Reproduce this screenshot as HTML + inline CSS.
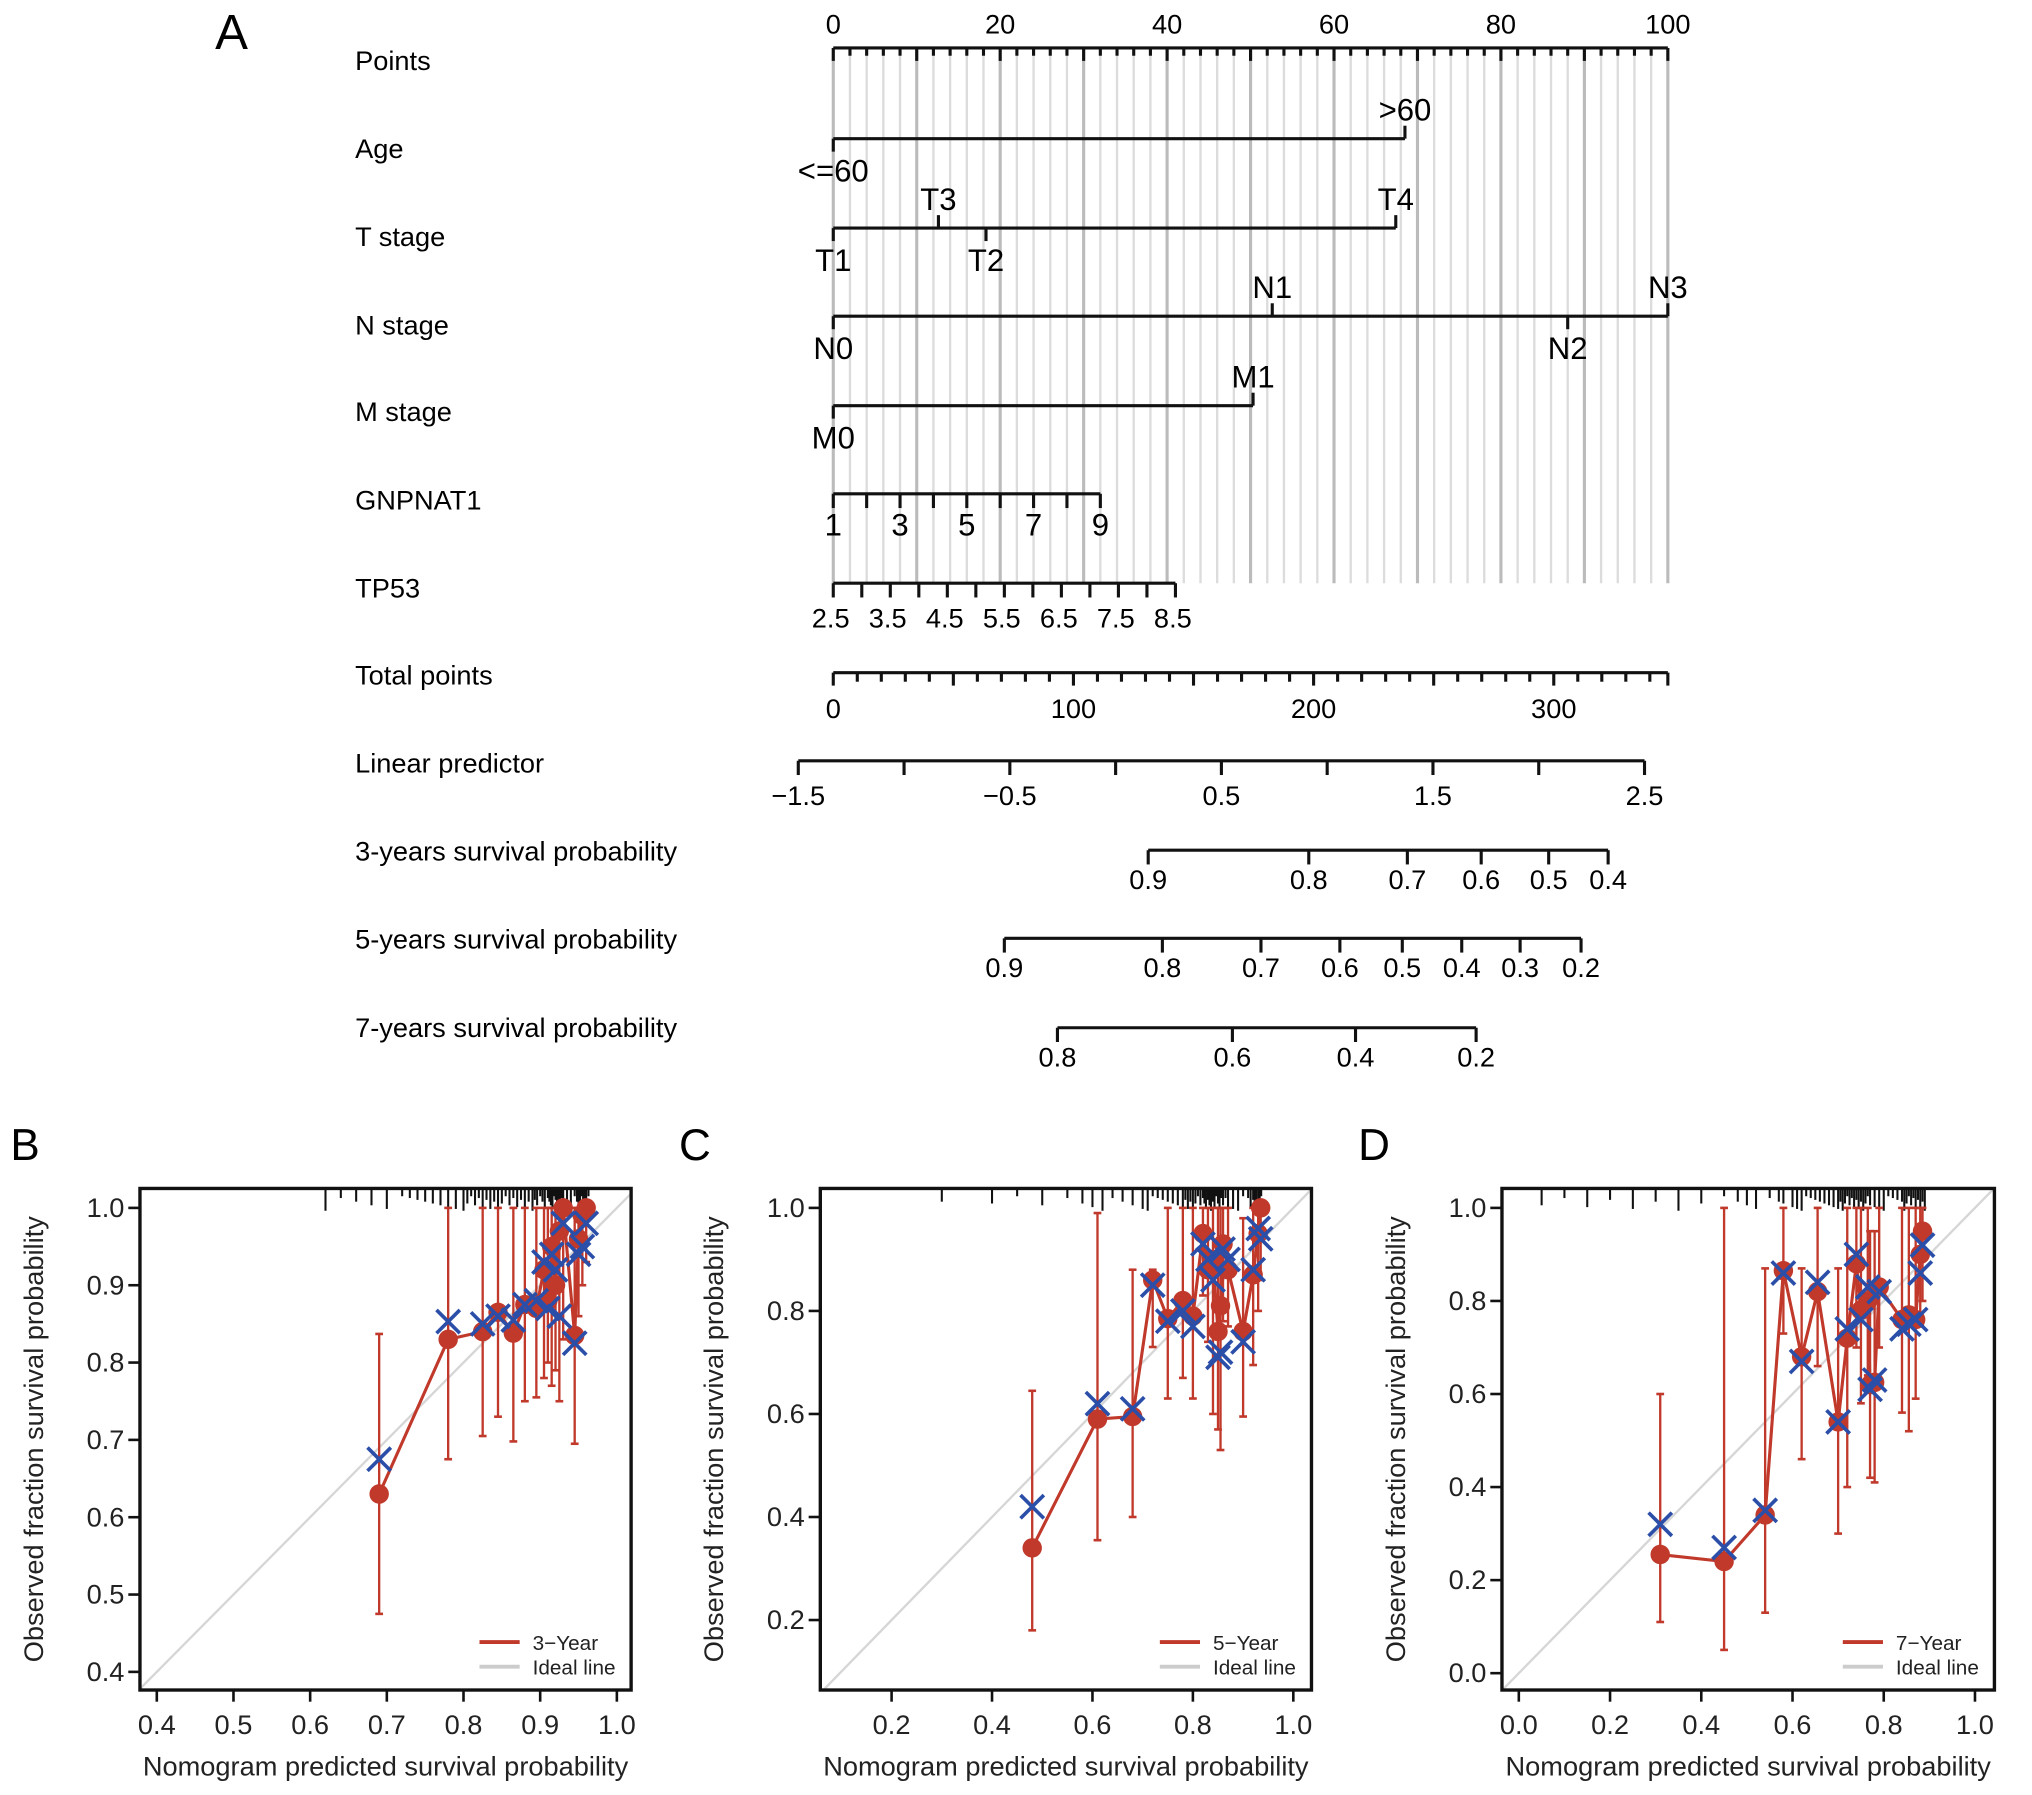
<!DOCTYPE html>
<html><head><meta charset="utf-8"><style>
html,body{margin:0;padding:0;background:#fff;}
svg{display:block;font-family:"Liberation Sans",Arial,sans-serif;}
</style></head><body>
<svg id="fig" xmlns="http://www.w3.org/2000/svg" width="2032" height="1795" viewBox="0 0 1568 1385" preserveAspectRatio="none">
<g id="nomo"></g>
<g id="cal"></g>
</svg>
<script>
// ---------- Nomogram data ----------
const rowLabels = ["Points","Age","T stage","N stage","M stage","GNPNAT1","TP53","Total points","Linear predictor","3-years survival probability","5-years survival probability","7-years survival probability"];
const ageLevels = ["<=60",">60"];
const agePoints = [0,68.5];
const tLevels = ["T1","T3","T2","T4"];
const tPoints = [0,12.6,18.3,67.4];
const nLevels = ["N0","N1","N2","N3"];
const nPoints = [0,52.6,88,100];
const mLevels = ["M0","M1"];
const mPoints = [0,50.3];
const gnpTicks = [1,2,3,4,5,6,7,8,9];
const gnpLabels = [1,3,5,7,9];
const gnpMaxPoints = 32;
const tp53Ticks = [2.5,3,3.5,4,4.5,5,5.5,6,6.5,7,7.5,8,8.5];
const tp53Labels = ["2.5","3.5","4.5","5.5","6.5","7.5","8.5"];
const tp53MaxPoints = 41;
const totalLabels = [0,100,200,300];
const totalMax = 347.5;
const lpTicks = [-1.5,-1,-0.5,0,0.5,1,1.5,2,2.5];
const lpLabels = ["-1.5","-0.5","0.5","1.5","2.5"];
const surv3Labels = ["0.9","0.8","0.7","0.6","0.5","0.4"];
const surv3Lp = [0.154,0.913,1.379,1.728,2.047,2.328];
const surv5Lp = [-0.526,0.221,0.687,1.06,1.355,1.636,1.912,2.2];
const surv5Labels = ["0.9","0.8","0.7","0.6","0.5","0.4","0.3","0.2"];
const surv7Lp = [-0.275,0.552,1.134,1.704];
const surv7Labels = ["0.8","0.6","0.4","0.2"];

// ---------- Calibration data ----------
const predB = [0.69,0.78,0.825,0.845,0.865,0.88,0.895,0.905,0.91,0.915,0.92,0.925,0.93,0.945,0.95,0.955,0.96];
const obsB  = [0.63,0.83,0.84,0.865,0.838,0.875,0.87,0.92,0.88,0.95,0.90,0.97,1.0,0.835,0.96,0.99,1.0];
const corrB = [0.675,0.853,0.85,0.86,0.855,0.875,0.88,0.93,0.87,0.94,0.92,0.86,0.98,0.825,0.94,0.95,0.98];
const loB   = [0.475,0.675,0.705,0.73,0.698,0.75,0.755,0.78,0.80,0.77,0.79,0.75,0.83,0.695,0.86,0.90,0.93];
const hiB   = [0.837,1,1,1,1,1,1,1,1,1,1,1,1,1,1,1,1];
const rugB  = [0.62,0.64,0.66,0.68,0.7,0.72,0.73,0.74,0.75,0.76,0.77,0.78,0.79,0.8,0.805,0.81,0.815,0.82,0.825,0.83,0.835,0.84,0.845,0.85,0.855,0.86,0.865,0.87,0.875,0.88,0.885,0.89,0.893,0.896,0.9,0.903,0.906,0.91,0.912,0.914,0.916,0.918,0.92,0.922,0.924,0.926,0.928,0.93,0.935,0.94,0.945,0.948,0.95,0.952,0.954,0.956,0.958,0.96,0.963];
const predC = [0.48,0.61,0.68,0.72,0.75,0.78,0.80,0.82,0.83,0.84,0.85,0.855,0.86,0.87,0.90,0.92,0.93,0.935];
const obsC  = [0.34,0.59,0.595,0.86,0.785,0.82,0.79,0.95,0.88,0.90,0.76,0.81,0.93,0.88,0.76,0.87,0.95,1.0];
const corrC = [0.42,0.62,0.61,0.85,0.78,0.80,0.77,0.93,0.90,0.86,0.71,0.72,0.92,0.90,0.74,0.88,0.96,0.94];
const loC   = [0.18,0.355,0.40,0.73,0.63,0.67,0.63,0.83,0.74,0.60,0.57,0.53,0.78,0.77,0.595,0.695,0.80,0.86];
const hiC   = [0.645,0.99,0.88,0.88,1,1,1,1,1,1,1,1,1,1,0.98,1,1,1];
const rugC  = [0.3,0.4,0.45,0.5,0.55,0.58,0.6,0.62,0.64,0.66,0.68,0.7,0.71,0.72,0.73,0.74,0.75,0.76,0.77,0.78,0.785,0.79,0.795,0.8,0.805,0.81,0.815,0.82,0.823,0.826,0.83,0.833,0.836,0.84,0.843,0.846,0.85,0.853,0.856,0.86,0.865,0.87,0.88,0.89,0.9,0.91,0.915,0.92,0.923,0.926,0.93,0.933,0.936];
const predD = [0.31,0.45,0.54,0.58,0.62,0.655,0.70,0.72,0.74,0.75,0.765,0.77,0.78,0.79,0.84,0.855,0.87,0.88,0.885];
const obsD  = [0.255,0.24,0.34,0.865,0.68,0.82,0.54,0.72,0.88,0.78,0.80,0.62,0.625,0.83,0.76,0.77,0.76,0.90,0.95];
const corrD = [0.32,0.27,0.35,0.86,0.67,0.84,0.54,0.74,0.90,0.76,0.83,0.61,0.63,0.82,0.74,0.75,0.76,0.86,0.92];
const loD   = [0.11,0.05,0.13,0.73,0.46,0.66,0.30,0.40,0.70,0.58,0.64,0.42,0.41,0.70,0.56,0.52,0.59,0.75,0.80];
const hiD   = [0.60,1,0.87,1,0.87,1,0.87,1,1,1,1,0.95,0.95,1,1,1,1,1,1];
const rugD  = [0.05,0.1,0.15,0.2,0.25,0.3,0.35,0.4,0.45,0.48,0.5,0.52,0.55,0.57,0.58,0.6,0.61,0.62,0.63,0.64,0.65,0.66,0.67,0.68,0.69,0.7,0.705,0.71,0.715,0.72,0.725,0.73,0.735,0.74,0.745,0.75,0.755,0.76,0.765,0.77,0.78,0.79,0.8,0.81,0.82,0.83,0.84,0.845,0.85,0.855,0.86,0.865,0.87,0.875,0.88,0.885,0.89];

const NS="http://www.w3.org/2000/svg";
function mk(parent, tag, attrs, text){
  const e=document.createElementNS(NS,tag);
  for(const k in attrs) e.setAttribute(k,attrs[k]);
  if(text!==undefined) e.textContent=text;
  parent.appendChild(e); return e;
}
function line(p,x1,y1,x2,y2,stroke,w){return mk(p,'line',{x1:x1,y1:y1,x2:x2,y2:y2,stroke:stroke,'stroke-width':w});}

// ---------- Nomogram ----------
const nomo=document.getElementById('nomo');
const P0=643, P1=1287;
const px = v => P0 + (P1-P0)*v/100;
const rowY = [37,107,176,244,313,381,450,519,587,656,724,793];
const labY = [47,115,183,251,318,386,454,521,589,657,725,793];
const FS=21;

let t=mk(nomo,'text',{x:166,y:38,'font-size':38},'A');



rowLabels.forEach((r,i)=>{
  const e=mk(nomo,'text',{x:274,y:labY[i]+7,'font-size':FS},r);
  
  
});

for(let v=0; v<=100; v+=2){
  const major = v%10===0;
  const g=line(nomo,px(v),rowY[0],px(v),rowY[6],major?'#bbbbbb':'#dcdcdc',major?2.4:1.8);
  
  
}

function axisLine(y,x1,x2,name){
  const l=line(nomo,x1,y,x2,y,'#111',2.4);
  
  
}
function tick(x,y,len,up){
  const l=line(nomo,x,y,x,up?y-len:y+len,'#111',2.4);
  
  
}
function label(x,y,s,fs){
  const e=mk(nomo,'text',{x:x,y:y,'font-size':fs||FS,'text-anchor':'middle'},s);
  
  
}

axisLine(rowY[0],P0,P1,'points-axis');
for(let v=0; v<=100; v+=2){ tick(px(v),rowY[0],v%10===0?10:6,false); }
for(let v=0; v<=100; v+=20){ label(px(v),rowY[0]-11,String(v)); }

function catRow(idx,levels,pts,aboveIdx,name){
  const y=rowY[idx];
  axisLine(y,px(0),px(Math.max(...pts)),name);
  levels.forEach((lv,i)=>{
    const up = aboveIdx.includes(i);
    tick(px(pts[i]),y,10,up);
    label(px(pts[i]), up ? y-14 : y+33, lv, 24);
  });
}
catRow(1,ageLevels,agePoints,[1],'age-axis');
catRow(2,tLevels,tPoints,[1,3],'t-stage-axis');
catRow(3,nLevels,nPoints,[1,3],'n-stage-axis');
catRow(4,mLevels,mPoints,[1],'m-stage-axis');

{
  const y=rowY[5]; const g=v=>px((v-1)/8*gnpMaxPoints);
  axisLine(y,g(1),g(9),'gnpnat1-axis');
  gnpTicks.forEach(v=>tick(g(v),y,11,false));
  gnpLabels.forEach(v=>label(g(v),y+32,String(v),24));
}
{
  const y=rowY[6]; const g=v=>px((v-2.5)/6*tp53MaxPoints);
  axisLine(y,g(2.5),g(8.5),'tp53-axis');
  tp53Ticks.forEach(v=>tick(g(v),y,11,false));
  tp53Labels.forEach(s=>label(g(parseFloat(s))-2,y+34,s));
}
{
  const y=rowY[7]; const g=v=>P0+(P1-P0)*v/totalMax;
  axisLine(y,g(0),g(totalMax),'total-points-axis');
  for(let v=0; v<=totalMax; v+=10) tick(g(v),y,v%50===0?10:7,false);
  tick(g(totalMax),y,10,false);
  totalLabels.forEach(v=>label(g(v),y+35,String(v)));
}
const L0=616, L1=1269;
const lx = v => L0 + (L1-L0)*(v+1.5)/4;
{
  const y=rowY[8];
  axisLine(y,lx(-1.5),lx(2.5),'linear-predictor-axis');
  lpTicks.forEach(v=>tick(lx(v),y,11,false));
  lpLabels.forEach(s=>label(lx(parseFloat(s)),y+34,s.replace('-','\u2212')));
}
function survRow(idx,lps,labs,name){
  const y=rowY[idx];
  axisLine(y,lx(lps[0]),lx(lps[lps.length-1]),name);
  lps.forEach((v,i)=>{tick(lx(v),y,11,false); label(lx(v),y+30,labs[i]);});
}
survRow(9,surv3Lp,surv3Labels,'survival-3-year-axis');
survRow(10,surv5Lp,surv5Labels,'survival-5-year-axis');
survRow(11,surv7Lp,surv7Labels,'survival-7-year-axis');

// ---------- Calibration panels ----------
const cal=document.getElementById('cal');
function panel(cfg){
  const g=mk(cal,'g',{});
  
  
  const {bx0,bx1,by0,by1}=cfg;
  const X=v=>cfg.xa+(v-cfg.xv0)*(cfg.xb-cfg.xa)/(cfg.xv1-cfg.xv0);
  const Y=v=>cfg.ya+(v-cfg.yv0)*(cfg.yb-cfg.ya)/(cfg.yv1-cfg.yv0);
  let e=mk(g,'text',{x:cfg.lx,y:895,'font-size':34},cfg.letter);
  
  
  const dmin=Math.max(cfg.xv0+(bx0-cfg.xa)/(cfg.xb-cfg.xa)*(cfg.xv1-cfg.xv0), cfg.yv0+(by1-cfg.ya)/(cfg.yb-cfg.ya)*(cfg.yv1-cfg.yv0));
  const dmax=Math.min(cfg.xv0+(bx1-cfg.xa)/(cfg.xb-cfg.xa)*(cfg.xv1-cfg.xv0), cfg.yv0+(by0-cfg.ya)/(cfg.yb-cfg.ya)*(cfg.yv1-cfg.yv0));
  e=line(g,X(dmin),Y(dmin),X(dmax),Y(dmax),'#d6d6d6',1.8);
  
  
  cfg.rug.forEach(v=>{
    const r=line(g,X(v),by0,X(v),by0+6+((v*1000)%9)*1.4,'#111',1.6);
    
    
  });
  cfg.pred.forEach((p,i)=>{
    const b=line(g,X(p),Y(cfg.lo[i]),X(p),Y(cfg.hi[i]),'#c0392b',1.8);
    
    
    [cfg.lo[i],cfg.hi[i]].forEach(v=>{
      const c=line(g,X(p)-3,Y(v),X(p)+3,Y(v),'#c0392b',2);
      
      
    });
  });
  const pl=mk(g,'polyline',{points:cfg.pred.map((p,i)=>X(p)+','+Y(cfg.obs[i])).join(' '),fill:'none',stroke:'#c0392b','stroke-width':2.4});
  
  
  cfg.pred.forEach((p,i)=>{
    const d=mk(g,'circle',{cx:X(p),cy:Y(cfg.obs[i]),r:7.5,fill:'#c0392b'});
    
    
  });
  cfg.pred.forEach((p,i)=>{
    const x=X(p), y=Y(cfg.corr[i]);
    const c=mk(g,'path',{d:`M${x-9},${y-9}L${x+9},${y+9}M${x-9},${y+9}L${x+9},${y-9}`,stroke:'#2b4fa8','stroke-width':2.8,fill:'none'});
    
    
  });
  e=mk(g,'rect',{x:bx0,y:by0,width:bx1-bx0,height:by1-by0,fill:'none',stroke:'#111','stroke-width':2.6});
  
  
  cfg.xt.forEach(s=>{
    const v=parseFloat(s);
    const k=line(g,X(v),by1,X(v),by1+9,'#111',2);
    
    
    const l=mk(g,'text',{x:X(v),y:by1+34,'font-size':21,'text-anchor':'middle',fill:'#222'},s);
    
    
  });
  cfg.yt.forEach(s=>{
    const v=parseFloat(s);
    const k=line(g,bx0,Y(v),bx0-9,Y(v),'#111',2);
    
    
    const l=mk(g,'text',{x:bx0-12,y:Y(v)+7,'font-size':21,'text-anchor':'end',fill:'#222'},s);
    
    
  });
  e=mk(g,'text',{x:(bx0+bx1)/2,y:1370,'font-size':21,'text-anchor':'middle',fill:'#222'},'Nomogram predicted survival probability');
  
  
  const tx=bx0-75, ty=(by0+by1)/2;
  e=mk(g,'text',{x:tx,y:ty,'font-size':21,'text-anchor':'middle',fill:'#222',transform:`rotate(-90 ${tx} ${ty})`},'Observed fraction survival probability');
  
  
  e=line(g,bx1-117,1267,bx1-86,1267,'#c0392b',3);
  
  
  e=mk(g,'text',{x:bx1-76,y:1273,'font-size':16,fill:'#222'},cfg.leg);
  
  
  e=line(g,bx1-117,1286,bx1-86,1286,'#cccccc',3);
  
  
  e=mk(g,'text',{x:bx1-76,y:1292,'font-size':16,fill:'#222'},'Ideal line');
  
  
}
panel({name:'calibration-3-year',letter:'B',lx:8,bx0:108,bx1:487,by0:917,by1:1304,xa:121,xb:476,xv0:0.4,xv1:1.0,ya:1290,yb:932,yv0:0.4,yv1:1.0,
  xt:["0.4","0.5","0.6","0.7","0.8","0.9","1.0"],yt:["0.4","0.5","0.6","0.7","0.8","0.9","1.0"],leg:'3\u2212Year',
  pred:predB,obs:obsB,corr:corrB,lo:loB,hi:hiB,rug:rugB});
panel({name:'calibration-5-year',letter:'C',lx:524,bx0:633,bx1:1012,by0:917,by1:1304,xa:688,xb:998,xv0:0.2,xv1:1.0,ya:1250,yb:932,yv0:0.2,yv1:1.0,
  xt:["0.2","0.4","0.6","0.8","1.0"],yt:["0.2","0.4","0.6","0.8","1.0"],leg:'5\u2212Year',
  pred:predC,obs:obsC,corr:corrC,lo:loC,hi:hiC,rug:rugC});
panel({name:'calibration-7-year',letter:'D',lx:1048,bx0:1159,bx1:1539,by0:917,by1:1304,xa:1172,xb:1524,xv0:0.0,xv1:1.0,ya:1291,yb:932,yv0:0.0,yv1:1.0,
  xt:["0.0","0.2","0.4","0.6","0.8","1.0"],yt:["0.0","0.2","0.4","0.6","0.8","1.0"],leg:'7\u2212Year',
  pred:predD,obs:obsD,corr:corrD,lo:loD,hi:hiD,rug:rugD});
</script>
</body></html>
